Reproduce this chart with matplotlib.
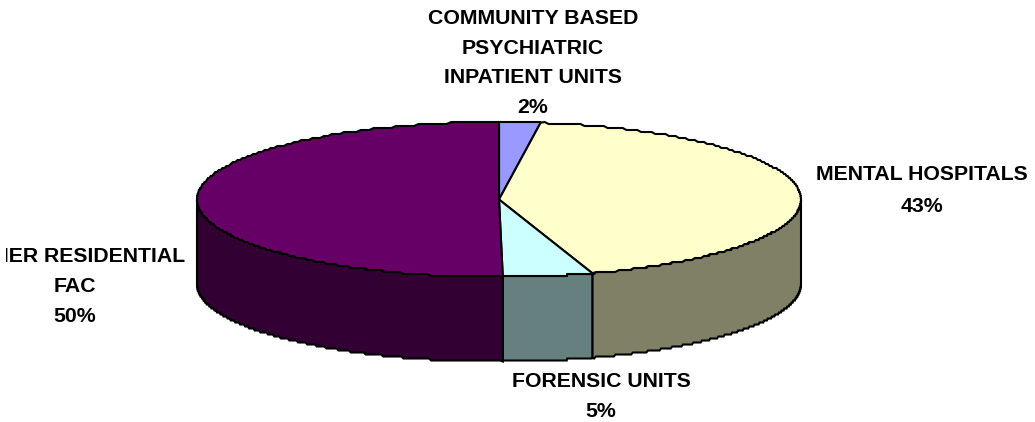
#!/usr/bin/env python3
"""Old style 3D pie of residential care shares."""

import matplotlib
matplotlib.use('Agg')
import matplotlib.pyplot as plt
from matplotlib.transforms import Bbox
import numpy as np

labels = ['COMMUNITY BASED\nPSYCHIATRIC\nINPATIENT UNITS\n2%', 'MENTAL HOSPITALS\n43%',
          'FORENSIC UNITS\n5%', 'OTHER RESIDENTIAL\nFAC\n50%']
shares = [2.2, 42.8, 4.8, 50.2]
top_colors = ['#9999FF', '#FFFFCC', '#CCFFFF', '#660066']
side_colors = ['#4D4D80', '#808066', '#668080', '#330033']

CX, CY, RX, RY, DEPTH = 499, 199.5, 302, 77.5, 84.5
STEP = 2  # the rim in the original is stepped, not smooth

plt.rcParams['font.family'] = ['Liberation Sans', 'DejaVu Sans']

fig = plt.figure(figsize=(10.35, 4.22), dpi=100)
ax = fig.add_axes([0, 0, 1, 1])
ax.set_xlim(0, 1035); ax.set_ylim(422, 0)
ax.axis('off')


def arc(a0, a1):
    t = np.radians(np.linspace(a0, a1, 200))
    x = CX + RX * np.sin(t)
    y = np.round((CY - RY * np.cos(t)) / STEP) * STEP
    y[0], y[-1] = CY - RY * np.cos(t[0]), CY - RY * np.cos(t[-1])
    return x, y


edges = np.cumsum([0] + shares) / sum(shares) * 360

# side walls first, only the front half of the rim shows
for a0, a1, c in zip(edges[:-1], edges[1:], side_colors):
    lo, hi = max(a0, 90), min(a1, 270)
    if lo >= hi:
        continue
    x, y = arc(lo, hi)
    ax.fill(np.r_[x, x[::-1]], np.r_[y, y[::-1] + DEPTH], facecolor=c, edgecolor='k', lw=1.5, zorder=2)

for a0, a1, c in zip(edges[:-1], edges[1:], top_colors):
    x, y = arc(a0, a1)
    ax.fill(np.r_[CX, x], np.r_[CY, y], facecolor=c, edgecolor='k', lw=1.5, zorder=3)

# label text sits centred on these spots
spots = [(533, 63), (922, 190.5), (601, 396.5), (75, 286.5)]
txts = []
for lab, (tx, ty) in zip(labels, spots):
    txts.append(ax.text(tx, ty, lab, ha='center', va='center', fontsize=15.3, fontweight='bold',
                        color='k', linespacing=1.7, zorder=5))
txts[1].set_linespacing(1.9)

# the left label runs off the chart area in the original
txts[3].set_clip_box(Bbox([[6, 0], [300, 422]]))
txts[3].set_clip_on(True)

fig.savefig('out.png', dpi=100)
plt.close(fig)
